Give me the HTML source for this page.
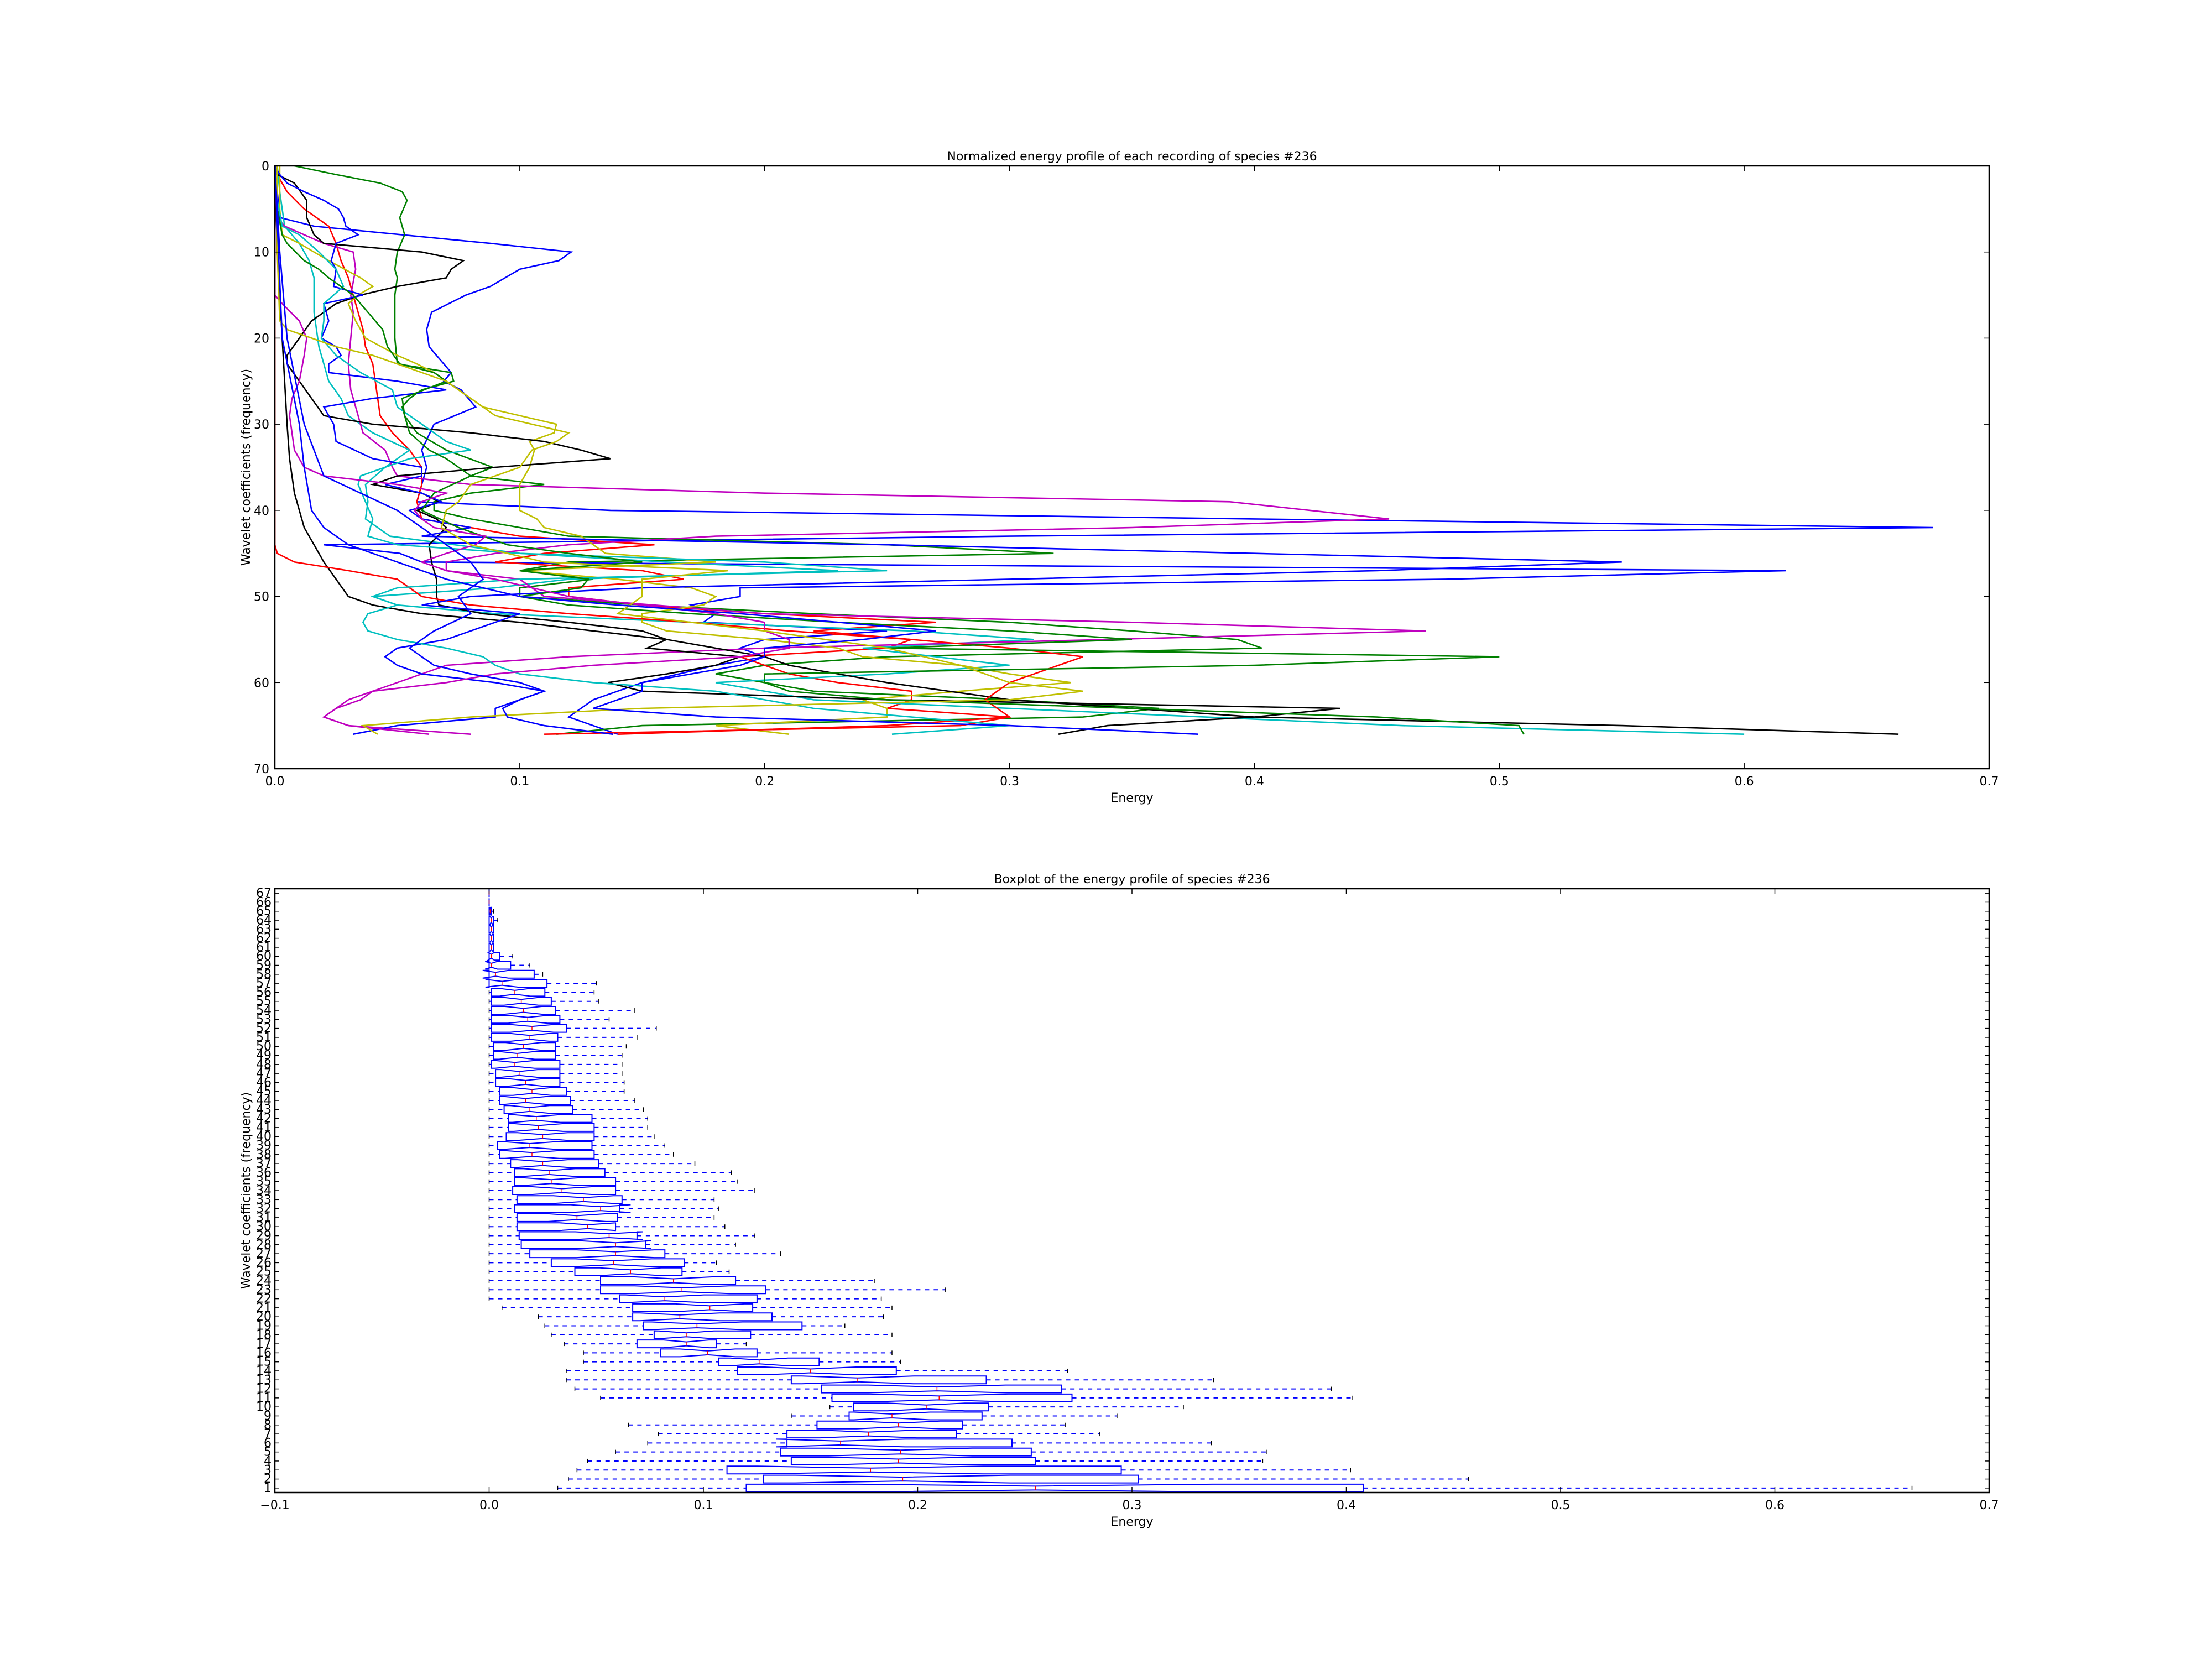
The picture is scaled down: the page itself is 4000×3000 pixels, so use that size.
<!DOCTYPE html>
<html><head><meta charset="utf-8"><style>
html,body{margin:0;padding:0;background:#fff}
svg{display:block}
text{font-family:"DejaVu Sans","Liberation Sans",sans-serif;font-size:22px;fill:#000}
</style></head><body>
<svg id="fig" width="4000" height="3000" viewBox="0 0 4000 3000" xmlns="http://www.w3.org/2000/svg">
<rect width="4000" height="3000" fill="#fff"/>
<g id="topchart"></g>
<g id="botchart"></g>
</svg>
<script>
// ---------- data: top chart ----------
const topXTicks=[0,0.1,0.2,0.3,0.4,0.5,0.6,0.7];
const topXTickLabels=["0.0","0.1","0.2","0.3","0.4","0.5","0.6","0.7"];
const topYTicks=[0,10,20,30,40,50,60,70];
const seriesColors=["#0000ff","#008000","#ff0000","#00bfbf","#bf00bf","#bfbf00","#000000","#000000","#ff0000","#0000ff","#00bfbf","#008000","#bf00bf","#bfbf00","#0000ff","#0000ff"];
const s1=[[0,0],[6,0.002],[7,0.016],[9,0.088],[10,0.121],[11,0.116],[12,0.1],[14,0.088],[15,0.078],[17,0.064],[19,0.062],[21,0.063],[22,0.066],[24,0.072],[25,0.069],[26,0.076],[28,0.082],[30,0.065],[33,0.06],[35,0.062],[37,0.06],[39,0.058],[40,0.137],[41,0.4],[42,0.677],[43,0.3],[44,0.02],[45,0.051],[46,0.06],[47,0.617],[48,0.478],[49,0.19],[50,0.19],[51,0.17],[52,0.18],[53,0.175],[54,0.25],[55,0.2],[56,0.19],[57,0.2],[58,0.18],[60,0.15],[62,0.13],[64,0.12],[66,0.14]];
const s2=[[0,0.008],[1,0.025],[2,0.043],[3,0.052],[4,0.054],[6,0.051],[8,0.053],[10,0.05],[12,0.049],[13,0.05],[15,0.049],[18,0.049],[20,0.049],[23,0.05],[24,0.072],[25,0.073],[26,0.06],[27,0.055],[28,0.052],[29,0.053],[31,0.058],[33,0.07],[35,0.089],[36,0.08],[37,0.11],[38,0.08],[39,0.065],[40,0.065],[41,0.08],[42,0.1],[43,0.12],[44,0.25],[45,0.318],[46,0.12],[47,0.1],[48,0.13],[49,0.1],[50,0.1],[51,0.15],[52,0.22],[53,0.3],[54,0.35],[55,0.393],[56,0.403],[57,0.25],[58,0.2],[59,0.18],[60,0.2],[61,0.22],[62,0.3],[63,0.361],[64,0.33],[65,0.15],[66,0.115]];
const s3=[[0,0],[1,0.001],[3,0.005],[5,0.012],[7,0.022],[9,0.025],[11,0.027],[13,0.03],[15,0.032],[17,0.034],[19,0.036],[21,0.037],[23,0.04],[25,0.041],[27,0.042],[29,0.043],[31,0.048],[33,0.055],[35,0.06],[37,0.06],[39,0.058],[41,0.06],[43,0.1],[44,0.155],[45,0.11],[46,0.09],[47,0.15],[48,0.167],[49,0.12],[50,0.12],[51,0.15],[52,0.2],[53,0.27],[54,0.22],[55,0.26],[56,0.25],[57,0.19],[59,0.21],[60,0.23],[61,0.26],[62,0.26],[63,0.25],[64,0.3],[65,0.25],[66,0.14]];
const s4=[[0,0.001],[3,0.002],[5,0.003],[7,0.004],[9,0.01],[11,0.014],[13,0.016],[15,0.016],[17,0.016],[19,0.017],[21,0.018],[23,0.02],[25,0.022],[27,0.027],[29,0.03],[31,0.04],[33,0.055],[35,0.045],[37,0.037],[39,0.038],[41,0.037],[43,0.047],[45,0.1],[46,0.16],[47,0.23],[48,0.12],[49,0.09],[50,0.04],[51,0.05],[52,0.09],[53,0.17],[54,0.26],[55,0.31],[56,0.24],[57,0.27],[58,0.3],[59,0.25],[60,0.18],[62,0.22],[63,0.3],[64,0.38],[65,0.46],[66,0.6]];
const s5=[[0,0],[6,0.001],[7,0.004],[8,0.012],[9,0.02],[10,0.032],[12,0.033],[15,0.031],[17,0.032],[20,0.031],[23,0.03],[26,0.031],[29,0.034],[31,0.036],[33,0.045],[35,0.048],[36,0.05],[37,0.08],[38,0.2],[39,0.39],[41,0.455],[42,0.35],[43,0.18],[44,0.12],[45,0.09],[46,0.07],[47,0.07],[48,0.1],[50,0.11],[52,0.2],[53,0.35],[54,0.47],[55,0.34],[56,0.2],[57,0.12],[58,0.07],[59,0.06],[60,0.05],[61,0.04],[62,0.035],[63,0.025],[64,0.02],[65,0.03],[66,0.08]];
const s6=[[0,0.002],[5,0.002],[8,0.003],[9,0.01],[10,0.016],[11,0.022],[13,0.035],[14,0.04],[15,0.034],[16,0.03],[18,0.033],[20,0.037],[22,0.05],[23,0.058],[24,0.065],[26,0.075],[28,0.085],[30,0.115],[31,0.114],[32,0.104],[33,0.106],[35,0.104],[37,0.1],[39,0.1],[40,0.1],[41,0.107],[42,0.11],[43,0.125],[44,0.13],[45,0.135],[46,0.18],[47,0.1],[48,0.14],[49,0.17],[50,0.18],[51,0.175],[52,0.15],[53,0.15],[54,0.16],[55,0.2],[56,0.23],[57,0.24],[58,0.28],[59,0.3],[60,0.325],[61,0.28],[62,0.24],[63,0.25],[64,0.25],[65,0.18],[66,0.21]];
const s7=[[0,0],[1,0.001],[2,0.008],[4,0.013],[6,0.013],[8,0.016],[9,0.02],[10,0.06],[11,0.077],[12,0.072],[13,0.07],[14,0.05],[15,0.035],[16,0.025],[17,0.02],[18,0.015],[20,0.01],[22,0.005],[23,0.005],[25,0.01],[27,0.015],[29,0.02],[30,0.04],[31,0.08],[32,0.11],[33,0.125],[34,0.137],[35,0.09],[36,0.05],[37,0.04],[38,0.06],[39,0.067],[40,0.058],[41,0.066],[42,0.07],[44,0.063],[46,0.064],[48,0.066],[50,0.066],[51,0.067],[52,0.085],[53,0.12],[54,0.15],[55,0.16],[56,0.152],[57,0.19],[58,0.18],[59,0.16],[60,0.136],[61,0.15],[62,0.25],[63,0.435],[64,0.4],[65,0.34],[66,0.32]];
const s8=[[0,0],[10,0.001],[20,0.003],[25,0.004],[30,0.005],[34,0.006],[38,0.008],[40,0.01],[42,0.012],[44,0.016],[46,0.02],[48,0.025],[50,0.03],[51,0.04],[52,0.06],[53,0.1],[54,0.13],[55,0.16],[56,0.18],[57,0.2],[58,0.21],[60,0.25],[62,0.3],[64,0.4],[65,0.55],[66,0.663]];
const s9=[[0,0],[10,0],[20,0],[30,0],[40,0],[44,0],[45,0.001],[46,0.008],[47,0.03],[48,0.05],[49,0.055],[50,0.06],[51,0.08],[52,0.12],[53,0.17],[54,0.21],[55,0.26],[56,0.3],[57,0.33],[58,0.32],[59,0.31],[60,0.3],[62,0.29],[64,0.3],[65,0.28],[66,0.11]];
const s10=[[0,0],[1,0.002],[2,0.005],[3,0.012],[4,0.02],[5,0.026],[6,0.028],[7,0.029],[8,0.034],[9,0.025],[11,0.023],[12,0.025],[14,0.024],[15,0.036],[16,0.02],[17,0.021],[18,0.022],[20,0.019],[21,0.025],[22,0.027],[23,0.022],[24,0.022],[25,0.05],[26,0.07],[27,0.04],[28,0.02],[30,0.024],[32,0.025],[34,0.04],[35,0.06],[36,0.06],[37,0.045],[38,0.06],[39,0.068],[40,0.055],[41,0.06],[42,0.08],[43,0.06],[44,0.25],[45,0.4],[46,0.55],[47,0.45],[48,0.3],[49,0.15],[50,0.08],[51,0.06],[52,0.1],[53,0.09],[54,0.08],[55,0.07],[56,0.05],[57,0.045],[58,0.05],[59,0.06],[60,0.09],[61,0.11],[62,0.1],[63,0.09],[64,0.09],[65,0.05],[66,0.032]];
const s11=[[0,0],[4,0.001],[7,0.003],[8,0.01],[10,0.018],[12,0.025],[14,0.028],[16,0.02],[18,0.02],[20,0.019],[22,0.025],[24,0.035],[26,0.048],[28,0.05],[30,0.06],[32,0.07],[33,0.08],[34,0.055],[36,0.035],[37,0.034],[39,0.037],[41,0.04],[43,0.038],[44,0.05],[45,0.1],[46,0.2],[47,0.25],[48,0.1],[49,0.05],[50,0.04],[51,0.05],[52,0.038],[53,0.036],[54,0.038],[55,0.05],[56,0.07],[57,0.085],[58,0.09],[59,0.1],[60,0.13],[61,0.18],[62,0.2],[63,0.22],[64,0.26],[65,0.3],[66,0.252]];
const s12=[[0,0],[5,0.001],[8,0.003],[9,0.005],[11,0.012],[12,0.018],[13,0.022],[15,0.032],[17,0.038],[19,0.044],[21,0.046],[23,0.051],[24,0.065],[25,0.07],[27,0.052],[29,0.053],[31,0.055],[33,0.063],[34,0.07],[36,0.08],[38,0.065],[40,0.06],[42,0.075],[44,0.095],[45,0.12],[46,0.15],[47,0.1],[48,0.128],[49,0.125],[50,0.1],[51,0.12],[52,0.17],[53,0.23],[54,0.3],[55,0.35],[56,0.25],[57,0.5],[58,0.4],[59,0.2],[60,0.2],[61,0.21],[62,0.25],[63,0.35],[64,0.45],[65,0.508],[66,0.51]];
const s13=[[0,0],[15,0],[16,0.003],[18,0.01],[20,0.013],[22,0.012],[25,0.01],[27,0.007],[29,0.006],[31,0.007],[33,0.008],[35,0.012],[36,0.02],[37,0.05],[38,0.07],[39,0.06],[40,0.057],[41,0.06],[42,0.065],[43,0.086],[44,0.082],[45,0.07],[46,0.06],[47,0.07],[48,0.09],[50,0.12],[52,0.18],[53,0.2],[54,0.2],[55,0.21],[56,0.21],[57,0.19],[58,0.13],[59,0.09],[60,0.07],[61,0.04],[62,0.03],[63,0.025],[64,0.02],[65,0.03],[66,0.063]];
const s14=[[0,0.001],[10,0.001],[18,0.002],[19,0.005],[20,0.015],[21,0.025],[22,0.04],[23,0.05],[24,0.06],[25,0.07],[27,0.08],[29,0.09],[30,0.105],[31,0.12],[32,0.115],[33,0.105],[35,0.1],[37,0.08],[39,0.075],[40,0.07],[42,0.068],[44,0.08],[46,0.11],[47,0.185],[48,0.15],[50,0.15],[52,0.14],[54,0.2],[56,0.25],[58,0.28],[60,0.3],[61,0.33],[62,0.3],[63,0.15],[64,0.08],[65,0.036],[66,0.042]];
const s15=[[0,0],[10,0.002],[20,0.005],[30,0.012],[36,0.02],[40,0.05],[42,0.06],[44,0.07],[46,0.08],[48,0.085],[50,0.075],[52,0.08],[54,0.065],[55,0.06],[56,0.055],[57,0.06],[58,0.065],[59,0.08],[60,0.1],[61,0.11],[62,0.1],[63,0.093],[64,0.095],[65,0.11],[66,0.138]];
const s16=[[0,0],[20,0.003],[30,0.01],[35,0.012],[40,0.015],[42,0.02],[44,0.03],[46,0.05],[48,0.07],[50,0.1],[51,0.14],[52,0.19],[53,0.23],[54,0.27],[55,0.24],[56,0.2],[57,0.2],[58,0.19],[60,0.15],[61,0.15],[62,0.14],[63,0.13],[64,0.18],[65,0.3],[66,0.377]];
const allSeries=[s1,s2,s3,s4,s5,s6,s7,s8,s9,s10,s11,s12,s13,s14,s15,s16];

// ---------- data: boxplot ----------
const boxCats=[];for(let i=1;i<=67;i++)boxCats.push(i);
const whiskLo=[0.032,0.037,0.041,0.046,0.059,0.074,0.079,0.065,0.141,0.159,0.052,0.040,0.036,0.036,0.044,0.044,0.035,0.029,0.026,0.023,0.006,0,0,0,0,0,0,0,0,0,0,0,0,0,0,0,0,0,0,0,0,0,0,0,0,0,0,0,0,0,0,0,0,0,0,0,0,0,0,0,0,0,0,0,0,0,0];
const q1=[0.120,0.128,0.111,0.141,0.136,0.139,0.139,0.153,0.168,0.170,0.160,0.155,0.141,0.116,0.107,0.080,0.069,0.077,0.072,0.067,0.067,0.061,0.052,0.052,0.040,0.029,0.019,0.015,0.014,0.013,0.013,0.012,0.013,0.011,0.012,0.012,0.010,0.005,0.004,0.008,0.009,0.009,0.007,0.005,0.005,0.003,0.003,0.001,0.002,0.002,0.001,0.001,0.001,0.001,0.001,0.001,0,0,0,0,0,0,0,0,0,0,0];
const med=[0.255,0.193,0.178,0.191,0.192,0.164,0.177,0.191,0.188,0.204,0.210,0.209,0.172,0.150,0.126,0.102,0.092,0.092,0.097,0.089,0.103,0.082,0.090,0.086,0.066,0.058,0.059,0.059,0.056,0.046,0.041,0.052,0.044,0.034,0.029,0.028,0.025,0.020,0.019,0.025,0.023,0.022,0.019,0.017,0.020,0.017,0.014,0.012,0.013,0.016,0.019,0.020,0.018,0.016,0.015,0.012,0.006,0.003,0.001,0.001,0.001,0.001,0.001,0.001,0.0005,0,0];
const q3=[0.408,0.303,0.295,0.255,0.253,0.244,0.218,0.221,0.230,0.233,0.272,0.267,0.232,0.190,0.154,0.125,0.106,0.122,0.146,0.132,0.123,0.125,0.129,0.115,0.090,0.091,0.082,0.073,0.069,0.059,0.060,0.061,0.062,0.059,0.059,0.054,0.051,0.049,0.048,0.049,0.049,0.048,0.039,0.038,0.036,0.033,0.033,0.033,0.031,0.031,0.032,0.036,0.033,0.031,0.029,0.026,0.027,0.021,0.010,0.005,0.002,0.002,0.002,0.002,0.001,0,0];
const whiskHi=[0.664,0.457,0.402,0.361,0.363,0.337,0.285,0.269,0.293,0.324,0.403,0.393,0.338,0.270,0.192,0.188,0.120,0.188,0.166,0.184,0.188,0.183,0.213,0.180,0.112,0.106,0.136,0.115,0.124,0.110,0.105,0.107,0.105,0.124,0.116,0.113,0.096,0.086,0.082,0.077,0.074,0.074,0.072,0.068,0.063,0.063,0.062,0.062,0.062,0.064,0.069,0.078,0.056,0.068,0.051,0.049,0.050,0.025,0.019,0.011,0.002,0.002,0.002,0.004,0.002,0,0];
const botXTicks=[-0.1,0,0.1,0.2,0.3,0.4,0.5,0.6,0.7];
const botXTickLabels=["\u22120.1","0.0","0.1","0.2","0.3","0.4","0.5","0.6","0.7"];
const nRec=30;

const NS="http://www.w3.org/2000/svg";
function mk(parent,tag,attrs,txt){const e=document.createElementNS(NS,tag);for(const k in attrs)e.setAttribute(k,attrs[k]);if(txt!==undefined)e.textContent=txt;parent.appendChild(e);return e;}

// ---------- top chart ----------
const T={l:497,r:3597,t:300,b:1390};
const tx=v=>T.l+(v-0)/(0.7-0)*(T.r-T.l);
const ty=v=>T.t+(v-0)/70*(T.b-T.t);
const topG=document.getElementById('topchart');
const clipT=mk(topG,'clipPath',{id:'ct'});mk(clipT,'rect',{x:T.l,y:T.t,width:T.r-T.l,height:T.b-T.t});
const lines=mk(topG,'g',{'clip-path':'url(#ct)'});


allSeries.forEach((s,i)=>{
  const p=mk(lines,'polyline',{points:s.map(d=>tx(d[1]).toFixed(1)+','+ty(d[0]).toFixed(1)).join(' '),fill:'none',stroke:seriesColors[i],'stroke-width':2.6,'stroke-linejoin':'miter'});
  
  
});
const frT=mk(topG,'rect',{x:T.l,y:T.t,width:T.r-T.l,height:T.b-T.t,fill:'none',stroke:'#000','stroke-width':2.5});


topXTicks.forEach((v,i)=>{
  const x=tx(v);
  mk(topG,'line',{x1:x,x2:x,y1:T.b,y2:T.b-10,stroke:'#000','stroke-width':1.5});
  mk(topG,'line',{x1:x,x2:x,y1:T.t,y2:T.t+10,stroke:'#000','stroke-width':1.5});
  const t=mk(topG,'text',{x:x,y:T.b+30,'text-anchor':'middle'},topXTickLabels[i]);
  
  
});
topYTicks.forEach(v=>{
  const y=ty(v);
  mk(topG,'line',{x1:T.l,x2:T.l+10,y1:y,y2:y,stroke:'#000','stroke-width':1.5});
  mk(topG,'line',{x1:T.r,x2:T.r-10,y1:y,y2:y,stroke:'#000','stroke-width':1.5});
  const t=mk(topG,'text',{x:T.l-10,y:y+8,'text-anchor':'end'},String(v));
  
  
});
let el;
el=mk(topG,'text',{x:(T.l+T.r)/2,y:T.t-10,'text-anchor':'middle'},'Normalized energy profile of each recording of species #236');


el=mk(topG,'text',{x:(T.l+T.r)/2,y:T.b+60,'text-anchor':'middle'},'Energy');


el=mk(topG,'text',{x:0,y:0,'text-anchor':'middle',transform:'translate(452,'+((T.t+T.b)/2)+') rotate(-90)'},'Wavelet coefficients (frequency)');



// ---------- boxplot ----------
const B={l:497,r:3597,t:1607,b:2699};
const bx=v=>B.l+(v+0.1)/0.8*(B.r-B.l);
const by=c=>B.b-(c-0.5)/67*(B.b-B.t);
const botG=document.getElementById('botchart');
const boxes=mk(botG,'g',{});


const hw=7;
boxCats.forEach((c,i)=>{
  const g=mk(boxes,'g',{});
  
  
  const y=by(c);
  const n1=med[i]-1.57*(q3[i]-q1[i])/Math.sqrt(nRec), n2=med[i]+1.57*(q3[i]-q1[i])/Math.sqrt(nRec);
  mk(g,'line',{x1:bx(whiskLo[i]),x2:bx(q1[i]),y1:y,y2:y,stroke:'#0000ff','stroke-width':2,'stroke-dasharray':'8,8'});
  mk(g,'line',{x1:bx(q3[i]),x2:bx(whiskHi[i]),y1:y,y2:y,stroke:'#0000ff','stroke-width':2,'stroke-dasharray':'8,8'});
  mk(g,'line',{x1:bx(whiskLo[i]),x2:bx(whiskLo[i]),y1:y-4,y2:y+4,stroke:'#000','stroke-width':1.5});
  mk(g,'line',{x1:bx(whiskHi[i]),x2:bx(whiskHi[i]),y1:y-4,y2:y+4,stroke:'#000','stroke-width':1.5});
  const pts=[[q1[i],y-hw],[n1,y-hw],[med[i],y-hw/2],[n2,y-hw],[q3[i],y-hw],[q3[i],y+hw],[n2,y+hw],[med[i],y+hw/2],[n1,y+hw],[q1[i],y+hw]];
  mk(g,'polygon',{points:pts.map(p=>bx(p[0]).toFixed(1)+','+p[1].toFixed(1)).join(' '),fill:'none',stroke:'#0000ff','stroke-width':2});
  mk(g,'line',{x1:bx(med[i]),x2:bx(med[i]),y1:y-hw/2,y2:y+hw/2,stroke:'#ff0000','stroke-width':1.5});
});
const frB=mk(botG,'rect',{x:B.l,y:B.t,width:B.r-B.l,height:B.b-B.t,fill:'none',stroke:'#000','stroke-width':2.5});


botXTicks.forEach((v,i)=>{
  const x=bx(v);
  mk(botG,'line',{x1:x,x2:x,y1:B.b,y2:B.b-10,stroke:'#000','stroke-width':1.5});
  mk(botG,'line',{x1:x,x2:x,y1:B.t,y2:B.t+10,stroke:'#000','stroke-width':1.5});
  const t=mk(botG,'text',{x:x,y:B.b+30,'text-anchor':'middle'},botXTickLabels[i]);
  
  
});
boxCats.forEach(c=>{
  const y=by(c);
  mk(botG,'line',{x1:B.l,x2:B.l+8,y1:y,y2:y,stroke:'#000','stroke-width':1.5});
  mk(botG,'line',{x1:B.r,x2:B.r-8,y1:y,y2:y,stroke:'#000','stroke-width':1.5});
  const t=mk(botG,'text',{x:B.l-6,y:y+7,'text-anchor':'end','font-size':'19'},String(c));
  
  
});
el=mk(botG,'text',{x:(B.l+B.r)/2,y:B.t-10,'text-anchor':'middle'},'Boxplot of the energy profile of species #236');


el=mk(botG,'text',{x:(B.l+B.r)/2,y:B.b+60,'text-anchor':'middle'},'Energy');


el=mk(botG,'text',{x:0,y:0,'text-anchor':'middle',transform:'translate(452,'+((B.t+B.b)/2)+') rotate(-90)'},'Wavelet coefficients (frequency)');


</script>
</body></html>
